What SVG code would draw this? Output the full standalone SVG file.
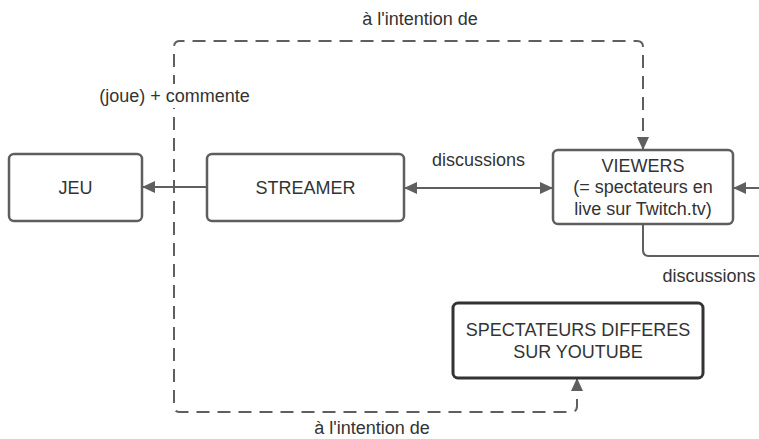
<svg xmlns="http://www.w3.org/2000/svg" width="759" height="439" viewBox="0 0 759 439">
  <style>
    .box { fill: #ffffff; stroke: #5e5e5e; stroke-width: 2.5; }
    .box-dark { fill: #ffffff; stroke: #333333; stroke-width: 3; }
    .lbl { font-family: "Liberation Sans", Arial, sans-serif; font-size: 18px; fill: #333333; text-anchor: middle; }
    .conn { fill: none; stroke: #5f5f5f; stroke-width: 2; }
    .dash { stroke-dasharray: 13 8; }
  </style>
  <defs>
    <marker id="arrow" markerUnits="userSpaceOnUse" markerWidth="14" markerHeight="12" refX="13" refY="6" orient="auto-start-reverse">
      <path d="M0,0 L13,6 L0,12 z" fill="#5f5f5f"/>
    </marker>
  </defs>
  <rect width="759" height="439" fill="#ffffff"/>

  <g id="connectors">
    <path class="conn dash" d="M577,378 L577,406 Q577,412 571,412 L180,412 Q174,412 174,406 L174,47 Q174,41 180,41 L637,41 Q643,41 643,47 L643,150" marker-start="url(#arrow)" marker-end="url(#arrow)"/>
    <path class="conn" d="M207,187 L142,187" marker-end="url(#arrow)"/>
    <path class="conn" d="M404,188 L553,188" marker-start="url(#arrow)" marker-end="url(#arrow)"/>
    <path class="conn" d="M760,188 L733,188" marker-end="url(#arrow)"/>
    <path class="conn" d="M643,224 L643,250 Q643,256 649,256 L760,256"/>
    <rect x="97" y="84" width="155" height="24" fill="#ffffff"/>
    <text class="lbl" x="174.5" y="102">(joue) + commente</text>
    <text class="lbl" x="420" y="25">à l'intention de</text>
    <text class="lbl" x="372" y="434">à l'intention de</text>
    <text class="lbl" x="478.5" y="166">discussions</text>
    <text class="lbl" x="709" y="282">discussions</text>
  </g>

  <g id="jeu">
    <rect class="box" x="9" y="154" width="133" height="67" rx="5"/>
    <text class="lbl" x="75.5" y="194">JEU</text>
  </g>
  <g id="streamer">
    <rect class="box" x="207" y="154" width="197" height="67" rx="5"/>
    <text class="lbl" x="305.5" y="194">STREAMER</text>
  </g>
  <g id="viewers">
    <rect class="box" x="553" y="150" width="180" height="74" rx="5"/>
    <text class="lbl" x="643" y="171.5">VIEWERS</text>
    <text class="lbl" x="643" y="193">(= spectateurs en</text>
    <text class="lbl" x="643" y="214.5">live sur Twitch.tv)</text>
  </g>
  <g id="youtube">
    <rect class="box-dark" x="453" y="303" width="250" height="75" rx="5"/>
    <text class="lbl" x="578" y="336">SPECTATEURS DIFFERES</text>
    <text class="lbl" x="578" y="357.5">SUR YOUTUBE</text>
  </g>
</svg>
